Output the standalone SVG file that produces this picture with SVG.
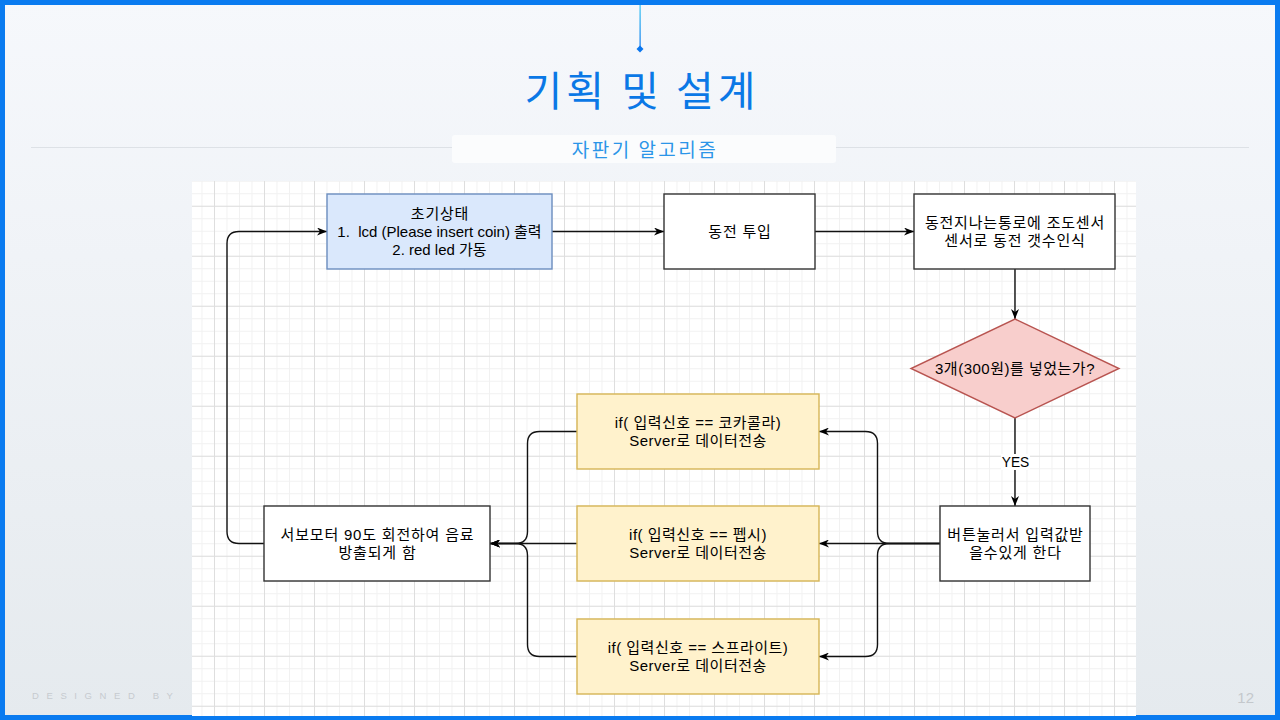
<svg xmlns="http://www.w3.org/2000/svg" width="1280" height="720" viewBox="0 0 1280 720">
  <defs>
    <linearGradient id="bg" x1="0" y1="0" x2="0" y2="1">
      <stop offset="0" stop-color="#f6f8fc"/>
      <stop offset="1" stop-color="#e5eaee"/>
    </linearGradient>
    <linearGradient id="topline" x1="0" y1="0" x2="0" y2="1">
      <stop offset="0" stop-color="#38c6f2"/>
      <stop offset="1" stop-color="#0a76ee"/>
    </linearGradient>
    <pattern id="minor" x="201.5" y="193.25" width="12.5" height="12.5" patternUnits="userSpaceOnUse">
      <rect x="0" y="0" width="1" height="12.5" fill="#f1f1f1"/>
      <rect x="0" y="0" width="12.5" height="1" fill="#f1f1f1"/>
    </pattern>
    <pattern id="major" x="214" y="205.75" width="50" height="50" patternUnits="userSpaceOnUse">
      <rect x="0" y="0" width="1" height="50" fill="#dedede"/>
      <rect x="0" y="0" width="50" height="1" fill="#dedede"/>
    </pattern>
    <marker id="arr" viewBox="0 0 10 8" markerWidth="10" markerHeight="8" refX="10" refY="4" orient="auto" markerUnits="userSpaceOnUse">
      <path d="M0,0 L10,4 L0,8 L3,4 z" fill="#000"/>
    </marker>
    <style>
      .t { font-family: "Liberation Sans", "Noto Sans CJK KR", sans-serif; font-size: 15px; fill: #000; text-anchor: middle; }
      .k { letter-spacing: 0.8px; }
      .m { letter-spacing: 0.5px; }
      .plain { fill: #ffffff; stroke: #333333; stroke-width: 1.4; }
      .blue { fill: #dae8fc; stroke: #6c8ebf; stroke-width: 1.4; }
      .yellow { fill: #fff2cc; stroke: #d6b656; stroke-width: 1.4; }
      .red { fill: #f8cecc; stroke: #b85450; stroke-width: 1.4; }
      .edge { fill: none; stroke: #111; stroke-width: 1.4; }
    </style>
  </defs>

  <!-- background & frame -->
  <rect x="0" y="0" width="1280" height="720" fill="url(#bg)"/>
  <rect x="2.5" y="2.5" width="1275" height="715" fill="none" stroke="#0a7bf0" stroke-width="5"/>
  <rect x="639.5" y="5" width="1.2" height="43" fill="url(#topline)"/>
  <path d="M640 45.5 L643.5 49 L640 52.5 L636.5 49 Z" fill="#0a76ee"/>

  <text x="642" y="106" font-family="'Noto Sans CJK KR', sans-serif" font-size="41" letter-spacing="4" fill="#0a78e6" text-anchor="middle">기획 및 설계</text>
  <line x1="31" y1="147.5" x2="1249" y2="147.5" stroke="#dde1e6" stroke-width="1"/>
  <rect x="452" y="135" width="384" height="28" rx="3" fill="#fbfcfd"/>
  <text x="645" y="157" font-family="'Noto Sans CJK KR', sans-serif" font-size="19" letter-spacing="2.5" fill="#2b95e8" text-anchor="middle">자판기 알고리즘</text>

  <text x="32" y="699" font-family="'Liberation Sans', sans-serif" font-size="9.5" letter-spacing="7.6" fill="#c6cacf">DESIGNED BY</text>
  <text x="1254" y="703" font-family="'Liberation Sans', sans-serif" font-size="15" fill="#c4c8cc" text-anchor="end">12</text>

  <!-- diagram canvas -->
  <rect x="192" y="181" width="944" height="535" fill="#ffffff"/>
  <rect x="192" y="181" width="944" height="535" fill="url(#minor)"/>
  <rect x="192" y="181" width="944" height="535" fill="url(#major)"/>

  <!-- connectors -->
  <g id="connectors">
    <path class="edge" d="M552,231.5 H664" marker-end="url(#arr)"/>
    <path class="edge" d="M815,231.5 H914" marker-end="url(#arr)"/>
    <path class="edge" d="M1015,269 V319" marker-end="url(#arr)"/>
    <path class="edge" d="M1015,418 V506" marker-end="url(#arr)"/>
    <rect x="1001" y="454" width="29" height="16" fill="#ffffff"/>
    <text class="t" x="1015.5" y="467" style="font-size:13.75px">YES</text>
    <path class="edge" d="M940,543.5 H819" marker-end="url(#arr)"/>
    <path class="edge" d="M940,543.5 H889.5 Q877.5,543.5 877.5,531.5 V443.5 Q877.5,431.5 865.5,431.5 H819" marker-end="url(#arr)"/>
    <path class="edge" d="M940,543.5 H889.5 Q877.5,543.5 877.5,555.5 V644.5 Q877.5,656.5 865.5,656.5 H819" marker-end="url(#arr)"/>
    <path class="edge" d="M577,543.5 H490" marker-end="url(#arr)"/>
    <path class="edge" d="M577,431.5 H539.5 Q527.5,431.5 527.5,443.5 V531.5 Q527.5,543.5 515.5,543.5 H490" marker-end="url(#arr)"/>
    <path class="edge" d="M577,656.5 H539.5 Q527.5,656.5 527.5,644.5 V555.5 Q527.5,543.5 515.5,543.5 H490" marker-end="url(#arr)"/>
    <path class="edge" d="M264,543.5 H239 Q227,543.5 227,531.5 V243.5 Q227,231.5 239,231.5 H327" marker-end="url(#arr)"/>
  </g>

  <!-- nodes -->
  <g id="n-init">
    <rect class="blue" x="327" y="194" width="225" height="75"/>
    <text class="t k" x="440" y="219">초기상태</text>
    <text class="t" x="439.5" y="237" xml:space="preserve">1.  lcd (Please insert coin) 출력</text>
    <text class="t" x="439.5" y="255">2. red led 가동</text>
  </g>
  <g id="n-coin">
    <rect class="plain" x="664" y="194" width="151" height="75"/>
    <text class="t k" x="740" y="237">동전 투입</text>
  </g>
  <g id="n-sensor">
    <rect class="plain" x="914" y="194" width="201" height="75"/>
    <text class="t k" x="1015" y="228">동전지나는통로에 조도센서</text>
    <text class="t k" x="1015" y="246">센서로 동전 갯수인식</text>
  </g>
  <g id="n-decision">
    <path class="red" d="M1015,319 L1119,368.5 L1015,418 L911,368.5 Z"/>
    <text class="t m" x="1015" y="374">3개(300원)를 넣었는가?</text>
  </g>
  <g id="n-button">
    <rect class="plain" x="940" y="506" width="150" height="75"/>
    <text class="t k" x="1015.5" y="540">버튼눌러서 입력값받</text>
    <text class="t k" x="1015.5" y="558">을수있게 한다</text>
  </g>
  <g id="n-coke">
    <rect class="yellow" x="577" y="394" width="242" height="75"/>
    <text class="t m" x="698" y="428">if( 입력신호 == 코카콜라)</text>
    <text class="t m" x="698" y="446">Server로 데이터전송</text>
  </g>
  <g id="n-pepsi">
    <rect class="yellow" x="577" y="506" width="242" height="75"/>
    <text class="t m" x="698" y="540">if( 입력신호 == 펩시)</text>
    <text class="t m" x="698" y="558">Server로 데이터전송</text>
  </g>
  <g id="n-sprite">
    <rect class="yellow" x="577" y="619" width="242" height="75"/>
    <text class="t m" x="698" y="653">if( 입력신호 == 스프라이트)</text>
    <text class="t m" x="698" y="671">Server로 데이터전송</text>
  </g>
  <g id="n-servo">
    <rect class="plain" x="264" y="506" width="226" height="75"/>
    <text class="t k" x="377.5" y="540">서보모터 90도 회전하여 음료</text>
    <text class="t k" x="377.5" y="558">방출되게 함</text>
  </g>
</svg>
